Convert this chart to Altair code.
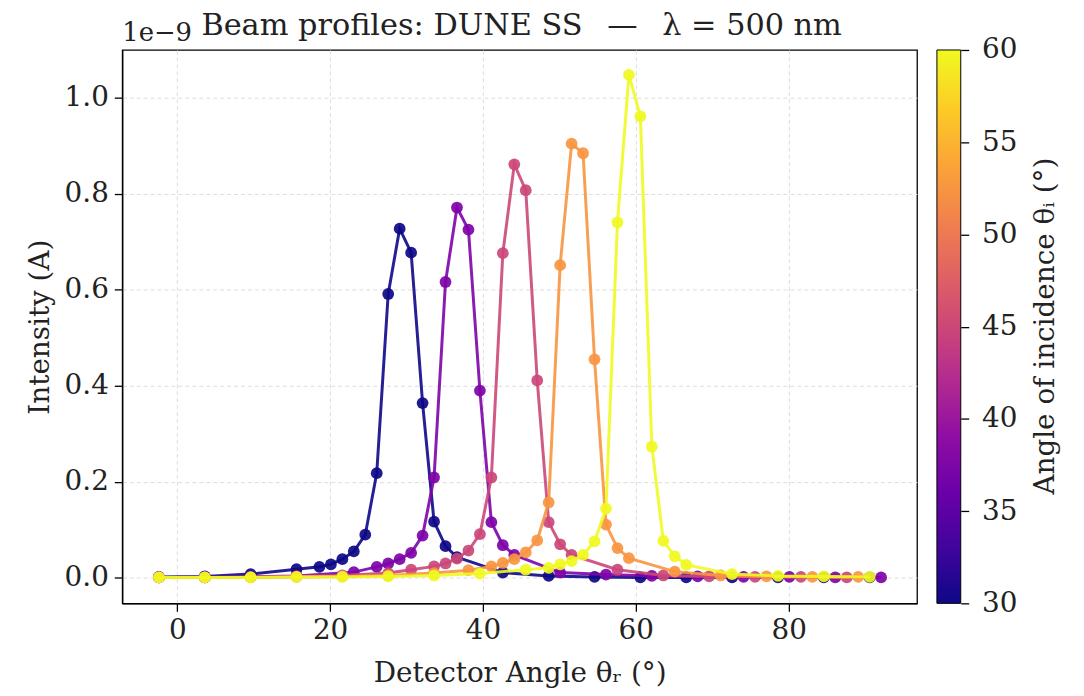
import altair as alt
import pandas as pd

# ---------------- data (intensity in units of 1e-9 A) ----------------
theta_i = [30, 37.5, 45, 52.5, 60]

x_30 = [-2.4, 3.6, 9.6, 15.6, 18.6, 20.1, 21.6, 23.1, 24.6, 26.1, 27.6, 29.1, 30.6,
        32.1, 33.6, 35.1, 36.6, 42.6, 48.6, 54.6, 60.6, 66.6, 72.6, 78.6, 84.6, 90.6]
y_30 = [0.002, 0.003, 0.008, 0.018, 0.023, 0.028, 0.039, 0.055, 0.090, 0.218, 0.591, 0.727, 0.677,
        0.364, 0.117, 0.066, 0.043, 0.011, 0.004, 0.002, 0.001, 0.001, 0.001, 0.001, 0.001, 0.001]

x_375 = [-2.4, 3.6, 9.6, 15.6, 23.1, 26.1, 27.6, 29.1, 30.6, 32.1, 33.6, 35.1, 36.6,
         38.1, 39.6, 41.1, 42.6, 44.1, 50.1, 56.1, 62.1, 68.1, 74.1, 80.1, 86.1, 92.1]
y_375 = [0.001, 0.001, 0.002, 0.004, 0.012, 0.023, 0.030, 0.039, 0.052, 0.088, 0.209, 0.616, 0.771,
         0.725, 0.390, 0.116, 0.068, 0.048, 0.011, 0.007, 0.004, 0.003, 0.002, 0.002, 0.001, 0.001]

x_45 = [-2.4, 3.6, 9.6, 15.6, 21.6, 27.6, 30.6, 33.6, 35.1, 36.6, 38.1, 39.6, 41.1,
        42.6, 44.1, 45.6, 47.1, 48.6, 50.1, 51.6, 57.6, 63.6, 69.6, 75.6, 81.6, 87.6]
y_45 = [0.001, 0.001, 0.002, 0.003, 0.005, 0.010, 0.017, 0.024, 0.030, 0.040, 0.057, 0.091, 0.209,
        0.676, 0.861, 0.807, 0.411, 0.116, 0.070, 0.048, 0.017, 0.005, 0.003, 0.002, 0.002, 0.001]

x_525 = [-2.4, 3.6, 9.6, 15.6, 21.6, 27.6, 33.6, 38.1, 41.1, 42.6, 44.1, 45.6, 47.1,
         48.6, 50.1, 51.6, 53.1, 54.6, 56.1, 57.6, 59.1, 65.1, 71.1, 77.1, 83.1, 89.1]
y_525 = [0.001, 0.001, 0.001, 0.002, 0.003, 0.005, 0.010, 0.016, 0.024, 0.031, 0.039, 0.053, 0.078,
         0.157, 0.651, 0.904, 0.884, 0.455, 0.111, 0.062, 0.041, 0.013, 0.005, 0.003, 0.002, 0.002]

x_60 = [-2.4, 3.6, 9.6, 15.6, 21.6, 27.6, 33.6, 39.6, 45.6, 48.6, 50.1, 51.6, 53.1,
        54.6, 56.1, 57.6, 59.1, 60.6, 62.1, 63.6, 65.1, 66.6, 72.6, 78.6, 84.6, 90.6]
y_60 = [0.001, 0.001, 0.001, 0.002, 0.002, 0.003, 0.005, 0.009, 0.017, 0.021, 0.028, 0.035, 0.048,
        0.076, 0.144, 0.740, 1.047, 0.961, 0.273, 0.077, 0.045, 0.027, 0.008, 0.004, 0.003, 0.002]

x_ticks = [0, 20, 40, 60, 80]
y_ticks = [0.0, 0.2, 0.4, 0.6, 0.8, 1.0]
cbar_ticks = [30, 35, 40, 45, 50, 55, 60]

title_text = "Beam profiles: DUNE SS \u2002\u2014\u2002 λ = 500 nm"
x_title = "Detector Angle θᵣ (°)"
y_title = "Intensity (A)"
cbar_title = "Angle of incidence θᵢ (°)"
offset_text = "1e−9"

# plasma colour stops for the colour bar
plasma_stops = ["#0d0887", "#41049d", "#6a00a8", "#8f0da4", "#b12a90", "#cc4778",
                "#e16462", "#f2844b", "#fca636", "#fcce25", "#f0f921"]

rows = []
for th, xs, ys in zip(theta_i, [x_30, x_375, x_45, x_525, x_60],
                      [y_30, y_375, y_45, y_525, y_60]):
    for a, b in zip(xs, ys):
        rows.append({"theta_i": th, "angle": a, "intensity": b})
df = pd.DataFrame(rows)

W, H = 800, 557
FONT = "DejaVu Serif"
FS = 28

xscale = alt.Scale(domain=[-7.2, 96.8], nice=False, zero=False)
yscale = alt.Scale(domain=[-0.053, 1.099], nice=False, zero=False)
cscale = alt.Scale(scheme="plasma", domain=[30, 60])

common_axis = dict(tickSize=8, tickColor="black", tickWidth=1.3, domainColor="black",
                   domainWidth=1.3, labelFontSize=FS, titleFontSize=FS, labelFont=FONT,
                   titleFont=FONT, labelColor="#222222", titleColor="#222222",
                   titleFontWeight="normal", grid=True, gridDash=[4, 3],
                   gridColor="#dddddd", gridWidth=1)
xaxis = alt.Axis(title=x_title, values=x_ticks, format="d", labelPadding=5,
                 titlePadding=16, **common_axis)
yaxis = alt.Axis(title=y_title, values=y_ticks, format=".1f", labelPadding=6,
                 titlePadding=10, **common_axis)

base = alt.Chart(df)
series_layers = []
for th in theta_i:
    sub = base.transform_filter(alt.datum.theta_i == th)
    enc = dict(
        x=alt.X("angle:Q", scale=xscale, axis=xaxis),
        y=alt.Y("intensity:Q", scale=yscale, axis=yaxis),
        color=alt.Color("theta_i:Q", scale=cscale, legend=None),
        detail="theta_i:N",
        order="angle:Q",
    )
    line = sub.mark_line(strokeWidth=3, opacity=0.9).encode(**enc)
    pts = sub.mark_point(filled=True, size=140, opacity=0.92).encode(
        x=enc["x"], y=enc["y"], color=enc["color"])
    series_layers += [line, pts]

main = alt.layer(*series_layers)

# colour bar (rect with plasma gradient on its own y scale / right axis)
cbar_df = pd.DataFrame({"lo": [30], "hi": [60]})
gradient = alt.LinearGradient(
    gradient="linear",
    stops=[alt.GradientStop(color=c, offset=i / (len(plasma_stops) - 1))
           for i, c in enumerate(plasma_stops)],
    x1=0, y1=1, x2=0, y2=0)
cbar = alt.Chart(cbar_df).mark_rect(fill=gradient, stroke="black", strokeWidth=1).encode(
    x=alt.value(820), x2=alt.value(844),
    y=alt.Y("lo:Q", scale=alt.Scale(domain=[30, 60], nice=False, zero=False),
            axis=alt.Axis(orient="right", offset=44, values=cbar_ticks, format="d",
                          domain=False, grid=False, tickSize=8, tickColor="black",
                          tickWidth=1.3, labelFontSize=FS, labelFont=FONT,
                          labelColor="#222222", labelPadding=13, title=None)),
    y2="hi:Q",
)

cbar_label = alt.Chart(pd.DataFrame({"t": [cbar_title]})).mark_text(
    font=FONT, fontSize=FS, angle=270, align="center", baseline="middle", color="#222222"
).encode(text="t:N", x=alt.value(930), y=alt.value(278))

offset_label = alt.Chart(pd.DataFrame({"t": [offset_text]})).mark_text(
    font=FONT, fontSize=26, align="left", baseline="alphabetic", color="#222222"
).encode(text="t:N", x=alt.value(0), y=alt.value(-9))

title_label = alt.Chart(pd.DataFrame({"t": [title_text]})).mark_text(
    font=FONT, fontSize=30.5, align="center", baseline="alphabetic", color="#222222"
).encode(text="t:N", x=alt.value(W / 2 + 2), y=alt.value(-15))

chart = alt.layer(main, cbar, cbar_label, offset_label, title_label).resolve_scale(
    y="independent"
).properties(
    width=W, height=H,
    autosize=alt.AutoSizeParams(type="none"),
    padding={"left": 115, "top": 40, "right": 160, "bottom": 89},
).configure(font=FONT).configure_view(stroke="black", strokeWidth=1.3)

chart.save("out.html", embed_options={"renderer": "svg", "actions": False})
